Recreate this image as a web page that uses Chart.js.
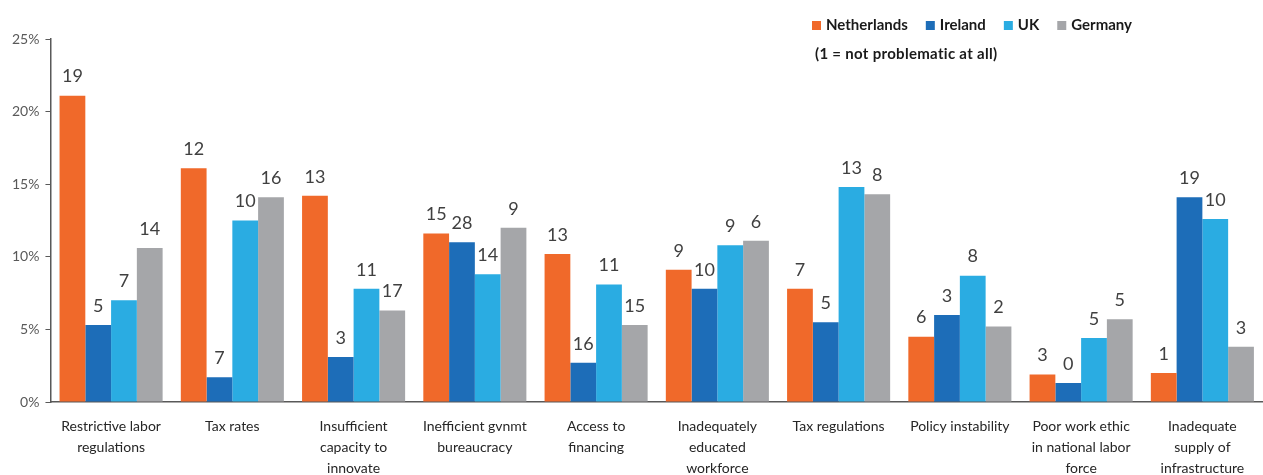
<!DOCTYPE html>
<html>
<head>
<meta charset="utf-8">
<script src="https://cdn.jsdelivr.net/npm/chart.js@4"></script>
<style>
  body { margin: 0; background: #fff; }
  #wrap { width: 1263px; height: 475px; position: relative; }
</style>
</head>
<body>
<div id="wrap"><canvas id="chart"></canvas></div>
<script>
const categories = [
    ['Restrictive labor', 'regulations'],
    'Tax rates',
    ['Insufficient', 'capacity to', 'innovate'],
    ['Inefficient gvnmt', 'bureaucracy'],
    ['Access to', 'financing'],
    ['Inadequately', 'educated', 'workforce'],
    'Tax regulations',
    'Policy instability',
    ['Poor work ethic', 'in national labor', 'force'],
    ['Inadequate', 'supply of', 'infrastructure']
];

// share of respondents (%) per country
const netherlands = [21.1, 16.1, 14.2, 11.6, 10.2, 9.1, 7.8, 4.5, 1.9, 2.0];
const ireland     = [5.3, 1.7, 3.1, 11.0, 2.7, 7.8, 5.5, 6.0, 1.3, 14.1];
const uk          = [7.0, 12.5, 7.8, 8.8, 8.1, 10.8, 14.8, 8.7, 4.4, 12.6];
const germany     = [10.6, 14.1, 6.3, 12.0, 5.3, 11.1, 14.3, 5.2, 5.7, 3.8];

// rank printed above each bar
const rankNetherlands = [19, 12, 13, 15, 13, 9, 7, 6, 3, 1];
const rankIreland     = [5, 7, 3, 28, 16, 10, 5, 3, 0, 19];
const rankUK          = [7, 10, 11, 14, 11, 9, 13, 8, 5, 10];
const rankGermany     = [14, 16, 17, 9, 15, 6, 8, 2, 5, 3];

const yTicks = [0, 5, 10, 15, 20, 25];
const legendNote = '(1 = not problematic at all)';

const FONT = 'Lato, "Liberation Sans", sans-serif';

const series = [
    { label: 'Netherlands', data: netherlands, ranks: rankNetherlands, color: '#F0692A' },
    { label: 'Ireland',     data: ireland,     ranks: rankIreland,     color: '#1D6DB8' },
    { label: 'UK',          data: uk,          ranks: rankUK,          color: '#2AACE2' },
    { label: 'Germany',     data: germany,     ranks: rankGermany,     color: '#A5A6A9' }
];

// rank numbers on top of the bars
const rankLabels = {
    id: 'rankLabels',
    afterDatasetsDraw(chart) {
        const ctx = chart.ctx;
        ctx.save();
        ctx.font = '18px ' + FONT;
        ctx.fillStyle = '#404040';
        ctx.textAlign = 'center';
        ctx.textBaseline = 'bottom';
        chart.data.datasets.forEach((ds, i) => {
            chart.getDatasetMeta(i).data.forEach((bar, j) => {
                ctx.fillText(String(ds.ranks[j]), bar.x, bar.y - 10);
            });
        });
        ctx.restore();
    }
};

// legend in the top right with the note underneath
const cornerLegend = {
    id: 'cornerLegend',
    afterDraw(chart) {
        const ctx = chart.ctx;
        ctx.save();
        ctx.font = 'bold 15px ' + FONT;
        ctx.textBaseline = 'middle';
        let x = 812;
        const y = 25;
        chart.data.datasets.forEach(ds => {
            ctx.fillStyle = ds.backgroundColor;
            ctx.fillRect(x, y - 4, 9, 9);
            ctx.fillStyle = '#1a1a1a';
            ctx.fillText(ds.label, x + 14, y);
            x += 14 + ctx.measureText(ds.label).width + 18;
        });
        ctx.letterSpacing = '0.3px';
        ctx.fillText(legendNote, 815, 54);
        ctx.restore();
    }
};

new Chart(document.getElementById('chart'), {
    type: 'bar',
    data: {
        labels: categories,
        datasets: series.map(s => ({
            label: s.label,
            data: s.data,
            ranks: s.ranks,
            backgroundColor: s.color,
            barPercentage: 1,
            categoryPercentage: 0.85
        }))
    },
    options: {
        responsive: true,
        maintainAspectRatio: false,
        animation: false,
        // the tick labels reserve more room than three lines need, so pull the bottom in
        layout: { padding: { top: 39, right: 0, left: 6, bottom: -18 } },
        plugins: {
            legend: { display: false },
            tooltip: { enabled: false }
        },
        scales: {
            x: {
                grid: { display: false, drawTicks: false },
                border: { color: '#595959', width: 1.5 },
                ticks: {
                    color: '#262626',
                    font: { family: FONT, size: 14, lineHeight: 1.5 },
                    padding: 14,
                    maxRotation: 0,
                    autoSkip: false
                }
            },
            y: {
                min: 0,
                max: 25,
                afterBuildTicks(axis) { axis.ticks = yTicks.map(v => ({ value: v })); },
                grid: { drawOnChartArea: false, drawTicks: true, tickLength: 5, color: '#595959' },
                border: { color: '#595959', width: 1.5 },
                ticks: {
                    color: '#595959',
                    font: { family: FONT, size: 14 },
                    padding: 6,
                    callback: v => v + '%'
                }
            }
        }
    },
    plugins: [rankLabels, cornerLegend]
});
</script>
</body>
</html>
